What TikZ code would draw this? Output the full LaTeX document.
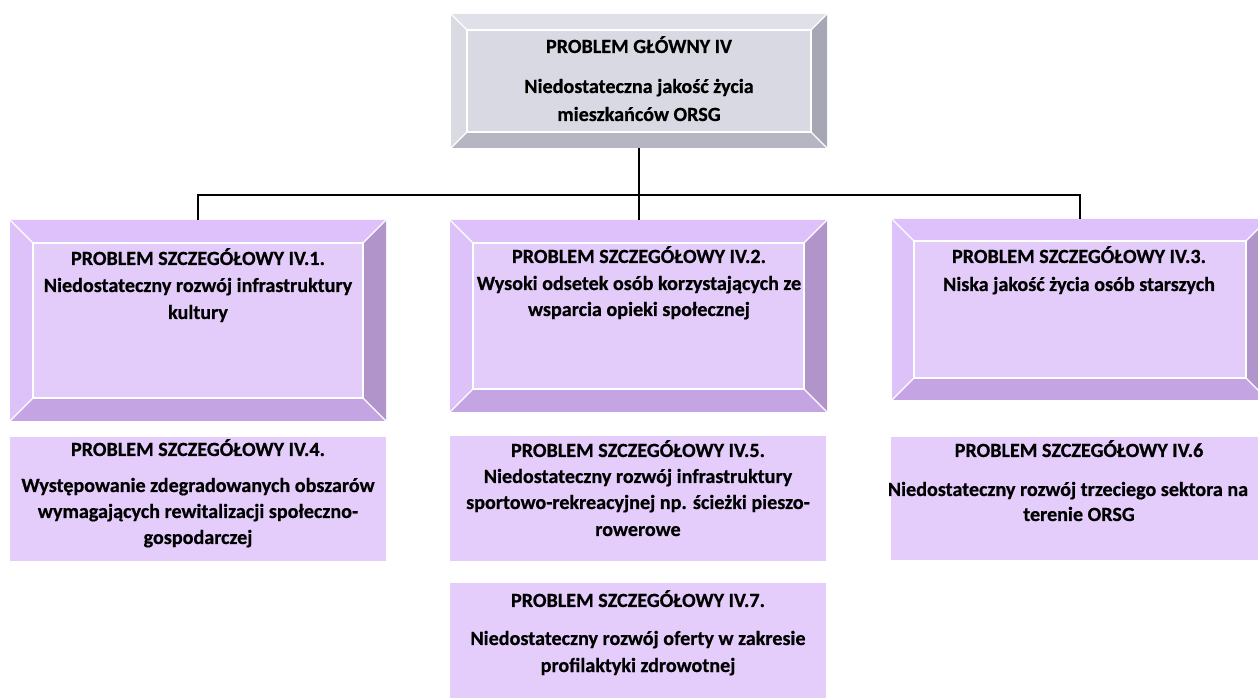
\documentclass[tikz,border=0pt]{standalone}
\usepackage{fontspec}
\setmainfont{Carlito}[BoldFeatures={FakeBold=0.6}]
\usetikzlibrary{calc,fit}
\definecolor{gface}{RGB}{217,217,227}
\definecolor{gtop}{RGB}{224,224,232}
\definecolor{gleft}{RGB}{218,218,227}
\definecolor{gright}{RGB}{166,166,180}
\definecolor{gbot}{RGB}{182,182,194}
\definecolor{pface}{RGB}{227,204,250}
\definecolor{ptop}{RGB}{222,192,251}
\definecolor{pleft}{RGB}{221,194,250}
\definecolor{pright}{RGB}{176,148,202}
\definecolor{pbot}{RGB}{196,164,227}
\definecolor{pflat}{RGB}{228,205,251}
\newcommand\bevelbox[7]{%
  \coordinate (#1-inw) at ($(#1.north west)+(#2,#2)$);
  \coordinate (#1-ine) at ($(#1.north east)+(-#2,#2)$);
  \coordinate (#1-ise) at ($(#1.south east)+(-#2,-#2)$);
  \coordinate (#1-isw) at ($(#1.south west)+(#2,-#2)$);
  \fill[#4] (#1.north west) -- (#1.north east) -- (#1-ine) -- (#1-inw) -- cycle;
  \fill[#5] (#1.north west) -- (#1-inw) -- (#1-isw) -- (#1.south west) -- cycle;
  \fill[#6] (#1.north east) -- (#1.south east) -- (#1-ise) -- (#1-ine) -- cycle;
  \fill[#7] (#1.south west) -- (#1-isw) -- (#1-ise) -- (#1.south east) -- cycle;
  \fill[#3] (#1-inw) rectangle (#1-ise);
  \draw[white, line width=0.9pt] (#1-inw) rectangle (#1-ise);
  \draw[white, line width=0.9pt] (#1.north west) -- (#1-inw) (#1.north east) -- (#1-ine)
     (#1.south east) -- (#1-ise) (#1.south west) -- (#1-isw);
}
\tikzset{
  area/.style={inner sep=0pt, outer sep=0pt},
  txt/.style={font=\fontsize{15.1}{18}\selectfont\bfseries, inner sep=0pt, anchor=base},
  conn/.style={draw=black, line width=1.5pt},
}
\begin{document}
\begin{tikzpicture}[x=0.75pt,y=-0.75pt]
\useasboundingbox (0,0) rectangle (1258,698);
\clip (0,0) rectangle (1258,698);
% box areas
\node[area, fit={(451,14) (827,148)}] (main) {};
\node[area, fit={(10,220) (386,421)}] (b1) {};
\node[area, fit={(450,220) (827,412)}] (b2) {};
\node[area, fit={(892,219) (1268,400)}] (b3) {};
\bevelbox{main}{16}{gface}{gtop}{gleft}{gright}{gbot}
\bevelbox{b1}{23}{pface}{ptop}{pleft}{pright}{pbot}
\bevelbox{b2}{23}{pface}{ptop}{pleft}{pright}{pbot}
\bevelbox{b3}{22}{pface}{ptop}{pleft}{pright}{pbot}
\node[area, fill=pflat, fit={(10,437) (386,561)}] (b4) {};
\node[area, fill=pflat, fit={(450,436) (826,561)}] (b5) {};
\node[area, fill=pflat, fit={(891,437) (1267,560)}] (b6) {};
\node[area, fill=pflat, fit={(450,583) (826,698)}] (b7) {};
% connectors
\coordinate (hub) at (639,195);
\draw[conn] (main.south) -- (hub);
\draw[conn] (hub) -| (b1.north);
\draw[conn] (hub) -| (b3.north);
\draw[conn] (hub) -- (hub |- b2.north);
% texts
\node[txt] (m1) at (639,53) {PROBLEM GŁÓWNY IV};
\node[txt] (m2) at (639,93) {Niedostateczna jakość życia};
\node[txt] (m3) at (639,121) {mieszkańców ORSG};
\node[txt] (t1a) at (198,265) {PROBLEM SZCZEGÓŁOWY IV.1.};
\node[txt] (t1b) at (198,292) {Niedostateczny rozwój infrastruktury};
\node[txt] (t1c) at (198,319) {kultury};
\node[txt] (t2a) at (639,263) {PROBLEM SZCZEGÓŁOWY IV.2.};
\node[txt] (t2b) at (639,290) {Wysoki odsetek osób korzystających ze};
\node[txt] (t2c) at (639,316) {wsparcia opieki społecznej};
\node[txt] (t3a) at (1079,263) {PROBLEM SZCZEGÓŁOWY IV.3.};
\node[txt] (t3b) at (1079,291) {Niska jakość życia osób starszych};
\node[txt] (t4a) at (198,456) {PROBLEM SZCZEGÓŁOWY IV.4.};
\node[txt] (t4b) at (198,492) {Występowanie zdegradowanych obszarów};
\node[txt] (t4c) at (198,518) {wymagających rewitalizacji społeczno-};
\node[txt] (t4d) at (198,544) {gospodarczej};
\node[txt] (t5a) at (638,457) {PROBLEM SZCZEGÓŁOWY IV.5.};
\node[txt] (t5b) at (638,483) {Niedostateczny rozwój infrastruktury};
\node[txt] (t5c) at (638,509) {sportowo-rekreacyjnej np. ścieżki pieszo-};
\node[txt] (t5d) at (638,536) {rowerowe};
\node[txt] (t6a) at (1079,457) {PROBLEM SZCZEGÓŁOWY IV.6};
\node[txt] (t6b) at (1068,496) {Niedostateczny rozwój trzeciego sektora na};
\node[txt] (t6c) at (1079,521) {terenie ORSG};
\node[txt] (t7a) at (638,607) {PROBLEM SZCZEGÓŁOWY IV.7.};
\node[txt] (t7b) at (638,645) {Niedostateczny rozwój oferty w zakresie};
\node[txt] (t7c) at (638,672) {profilaktyki zdrowotnej};
\end{tikzpicture}
\end{document}
